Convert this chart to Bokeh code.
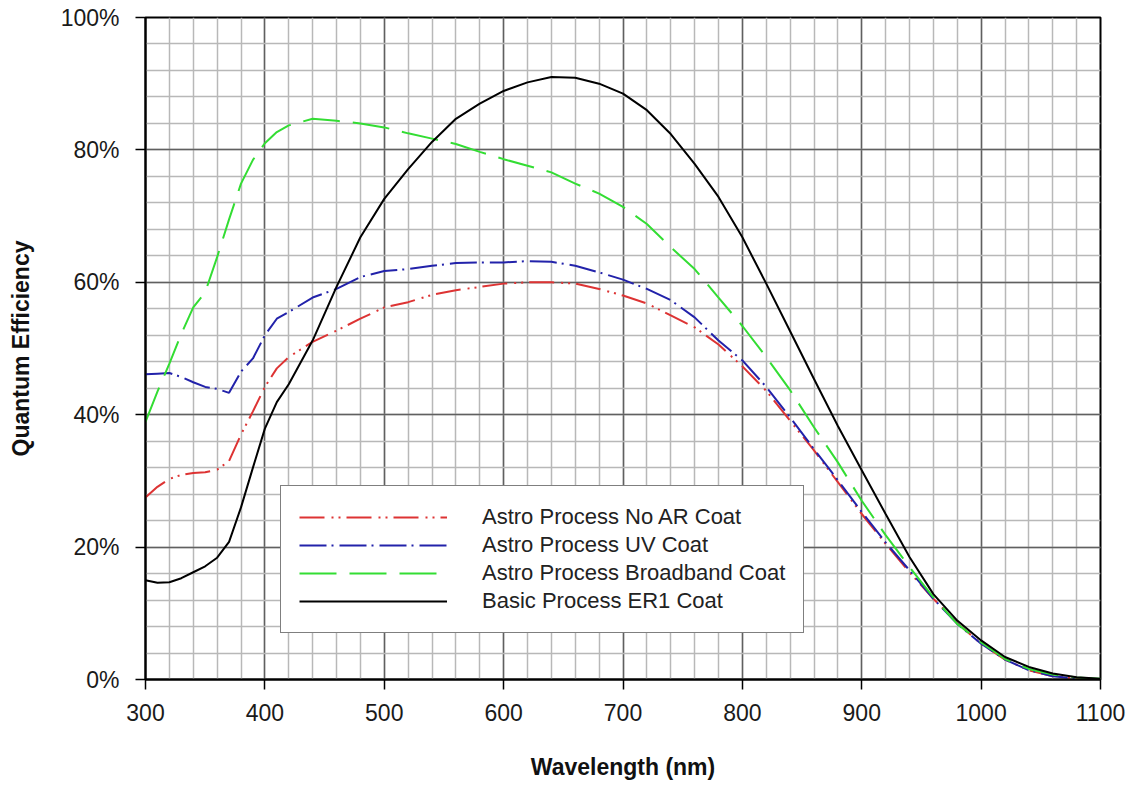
from bokeh.plotting import figure
from bokeh.models import SingleIntervalTicker, PrintfTickFormatter, Legend, LegendItem, Range1d
from bokeh.embed import file_html
from bokeh.resources import INLINE

# Wavelength grid (nm)
wavelength = [300, 310, 320, 330, 340, 350, 360, 370, 380, 390, 400, 410, 420,
              440, 460, 480, 500, 520, 540, 560, 580, 600, 620, 640, 660, 680,
              700, 720, 740, 760, 780, 800, 820, 840, 860, 880, 900, 920, 940,
              960, 980, 1000, 1020, 1040, 1060, 1080, 1100]

# Quantum efficiency (%)
qe_no_ar = [27.5, 29.1, 30.3, 30.9, 31.2, 31.3, 31.7, 33.0, 37.0, 40.5, 44.2, 47.0, 48.7,
            51.0, 52.7, 54.5, 56.2, 57.0, 58.1, 58.8, 59.3, 59.8, 60.0, 60.0, 59.8, 59.0,
            58.0, 56.8, 55.0, 53.2, 50.6, 47.3, 43.6, 39.1, 34.6, 29.8, 25.0, 20.5, 16.2,
            12.2, 8.5, 5.4, 3.0, 1.4, 0.5, 0.15, 0.05]

qe_uv = [46.1, 46.2, 46.3, 45.7, 44.9, 44.2, 43.9, 43.3, 46.5, 48.5, 52.0, 54.5, 55.5,
         57.7, 59.0, 60.8, 61.7, 62.0, 62.5, 62.9, 63.0, 63.0, 63.2, 63.1, 62.5, 61.5,
         60.4, 59.0, 57.3, 54.7, 51.2, 48.2, 44.2, 39.6, 34.8, 30.1, 25.3, 20.7, 16.5,
         12.2, 8.4, 5.4, 3.0, 1.4, 0.5, 0.15, 0.05]

qe_broadband = [38.9, 43.5, 47.7, 52.2, 56.2, 58.5, 63.8, 69.5, 74.9, 78.5, 81.0, 82.7, 83.7,
                84.7, 84.4, 84.0, 83.4, 82.5, 81.7, 80.9, 79.7, 78.6, 77.6, 76.6, 74.9, 73.4,
                71.4, 68.8, 65.3, 62.0, 57.7, 53.4, 48.7, 43.7, 38.1, 32.8, 27.0, 21.8, 17.0,
                12.4, 8.4, 5.6, 3.1, 1.6, 0.75, 0.3, 0.1]

qe_er1 = [15.0, 14.6, 14.7, 15.3, 16.2, 17.1, 18.4, 20.8, 26.0, 32.0, 37.9, 41.9, 44.6,
          51.2, 59.3, 66.8, 72.6, 77.1, 81.2, 84.7, 87.0, 88.9, 90.2, 91.0, 90.9, 90.0,
          88.5, 86.0, 82.4, 77.9, 72.9, 66.8, 59.8, 52.6, 45.4, 38.3, 31.6, 25.0, 18.5,
          12.9, 8.9, 5.9, 3.4, 1.9, 0.9, 0.35, 0.1]

labels = ["Astro Process No AR Coat", "Astro Process UV Coat",
          "Astro Process Broadband Coat", "Basic Process ER1 Coat"]

FONT = "Liberation Sans"

p = figure(width=1130, height=785, output_backend="svg", toolbar_location=None,
           x_range=Range1d(300, 1100), y_range=Range1d(0, 100),
           min_border_left=145, min_border_right=30, min_border_top=17, min_border_bottom=106)

p.xaxis.ticker = SingleIntervalTicker(interval=100, num_minor_ticks=5)
p.yaxis.ticker = SingleIntervalTicker(interval=20, num_minor_ticks=5)
p.yaxis.formatter = PrintfTickFormatter(format="%d%%")

for ax in (p.xaxis, p.yaxis):
    ax.minor_tick_line_color = None
    ax.major_tick_in = 0
    ax.major_tick_out = 10
    ax.major_tick_line_color = "black"
    ax.major_tick_line_width = 1.5
    ax.axis_line_color = "black"
    ax.axis_line_width = 2
    ax.major_label_text_font = FONT
    ax.major_label_text_font_size = "23px"
    ax.major_label_text_color = "#1a1a1a"
    ax.axis_label_text_font = FONT
    ax.axis_label_text_font_size = "23px"
    ax.axis_label_text_font_style = "bold"
    ax.axis_label_text_color = "#111111"

p.xaxis.axis_label = "Wavelength (nm)"
p.yaxis.axis_label = "Quantum Efficiency"
p.xaxis.major_label_standoff = 14
p.yaxis.major_label_standoff = 16
p.xaxis.axis_label_standoff = 30
p.yaxis.axis_label_standoff = 24

for g in (p.xgrid, p.ygrid):
    g.grid_line_color = "#606060"
    g.grid_line_width = 1.5
    g.minor_grid_line_color = "#b8b8b8"
    g.minor_grid_line_width = 1.5

p.outline_line_color = "black"
p.outline_line_width = 2

r_red = p.line(wavelength, qe_no_ar, line_color="#dd3333", line_width=2,
               line_dash="25 7 2 5 2 6")
r_blue = p.line(wavelength, qe_uv, line_color="#2222aa", line_width=2,
                line_dash="27 5 2 6")
r_green = p.line(wavelength, qe_broadband, line_color="#33dd33", line_width=2,
                 line_dash="37 13")
r_black = p.line(wavelength, qe_er1, line_color="black", line_width=2)

legend = Legend(items=[LegendItem(label=labels[0], renderers=[r_red]),
                       LegendItem(label=labels[1], renderers=[r_blue]),
                       LegendItem(label=labels[2], renderers=[r_green]),
                       LegendItem(label=labels[3], renderers=[r_black])],
                location=(135, 46))
legend.label_text_font = FONT
legend.label_text_font_size = "22px"
legend.label_text_color = "#222222"
legend.glyph_width = 148
legend.glyph_height = 26
legend.label_height = 26
legend.label_standoff = 35
legend.spacing = 2
legend.padding = 18
legend.margin = 0
legend.border_line_color = "black"
legend.border_line_width = 1.5
legend.background_fill_alpha = 1.0
p.add_layout(legend)

open("out.html", "w").write(file_html(p, INLINE))
